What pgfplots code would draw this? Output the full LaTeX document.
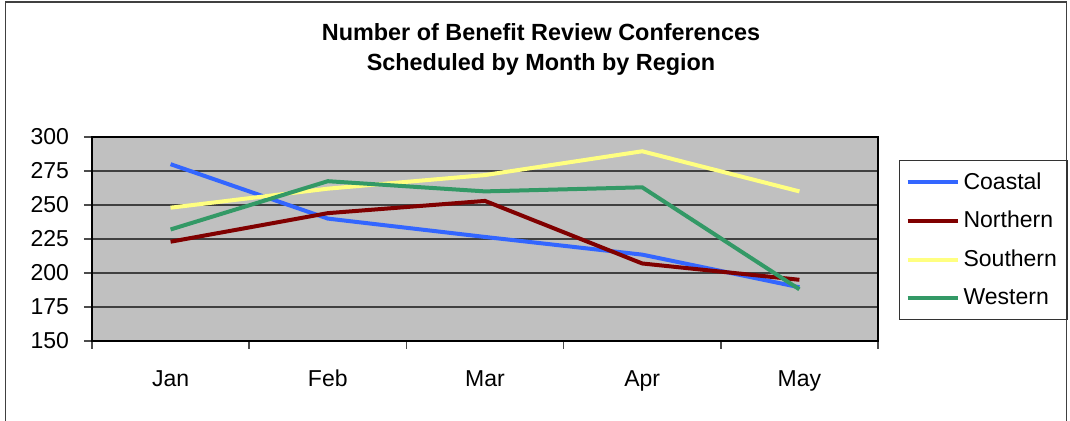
\documentclass[border=0pt]{standalone}
\usepackage{fontspec}
\setmainfont{Liberation Sans}
\usepackage{pgfplots}
\pgfplotsset{compat=1.18}
\definecolor{coastal}{HTML}{3366FF}
\definecolor{northern}{HTML}{800000}
\definecolor{southern}{HTML}{FFFF80}
\definecolor{western}{HTML}{339966}
\definecolor{plotbg}{HTML}{C0C0C0}
\begin{document}
\begin{tikzpicture}
\useasboundingbox (0,0) rectangle (535pt,210.5pt);
\draw[black!75, line width=0.8pt] (2.8pt,-2pt) |- (533.2pt,209.6pt) -- (533.2pt,-2pt);
\node[font=\fontsize{11.7}{13}\selectfont\bfseries] at (270.5pt,194.5pt) {Number of Benefit Review Conferences};
\node[font=\fontsize{11.7}{13}\selectfont\bfseries] at (270.5pt,178pt) {Scheduled by Month by Region};
\begin{axis}[
  at={(46pt,40pt)}, anchor=south west,
  width=393pt, height=102pt, scale only axis,
  xmin=-0.5, xmax=4.5, ymin=150, ymax=300,
  ytick={150,175,...,300},
  xtick={0,1,2,3,4},
  xticklabels={Jan,Feb,Mar,Apr,May},
  minor xtick={-0.5,0.5,1.5,2.5,3.5,4.5},
  major x tick style={draw=none},
  tick align=outside, tick pos=left,
  major tick length=4pt, minor tick length=4pt,
  tick style={black!70, line width=0.8pt},
  axis background/.style={fill=plotbg},
  axis line style={black, line width=1pt},
  ymajorgrids, grid style={black!75, line width=0.8pt},
  ticklabel style={font=\fontsize{11.5}{13}\selectfont},
  /pgf/number format/assume math mode=true,
  xticklabel style={yshift=-8pt, text height=0.72em, text depth=0.22em},
  yticklabel style={xshift=-4pt},
  legend style={at={(1.0267,0.887)}, anchor=north west, draw=black!80, line width=0.6pt, fill=white,
    font=\fontsize{11.5}{13}\selectfont, row sep=5.5pt, inner xsep=3pt, inner ysep=4pt, cells={anchor=west}},
  legend image code/.code={\draw[#1, line width=2pt] (0pt,0pt) -- (25pt,0pt);},
  every axis plot/.append style={line width=2pt},
]
\addplot[coastal] coordinates {(0,280) (1,240) (2,226.5) (3,213.5) (4,189.5)};
\addlegendentry{Coastal}
\addplot[northern] coordinates {(0,223) (1,244) (2,253) (3,207) (4,195)};
\addlegendentry{Northern}
\addplot[southern] coordinates {(0,248) (1,262) (2,272) (3,289.5) (4,260)};
\addlegendentry{Southern}
\addplot[western] coordinates {(0,232) (1,267.5) (2,260) (3,263) (4,188)};
\addlegendentry{Western}
\end{axis}
\end{tikzpicture}
\end{document}
